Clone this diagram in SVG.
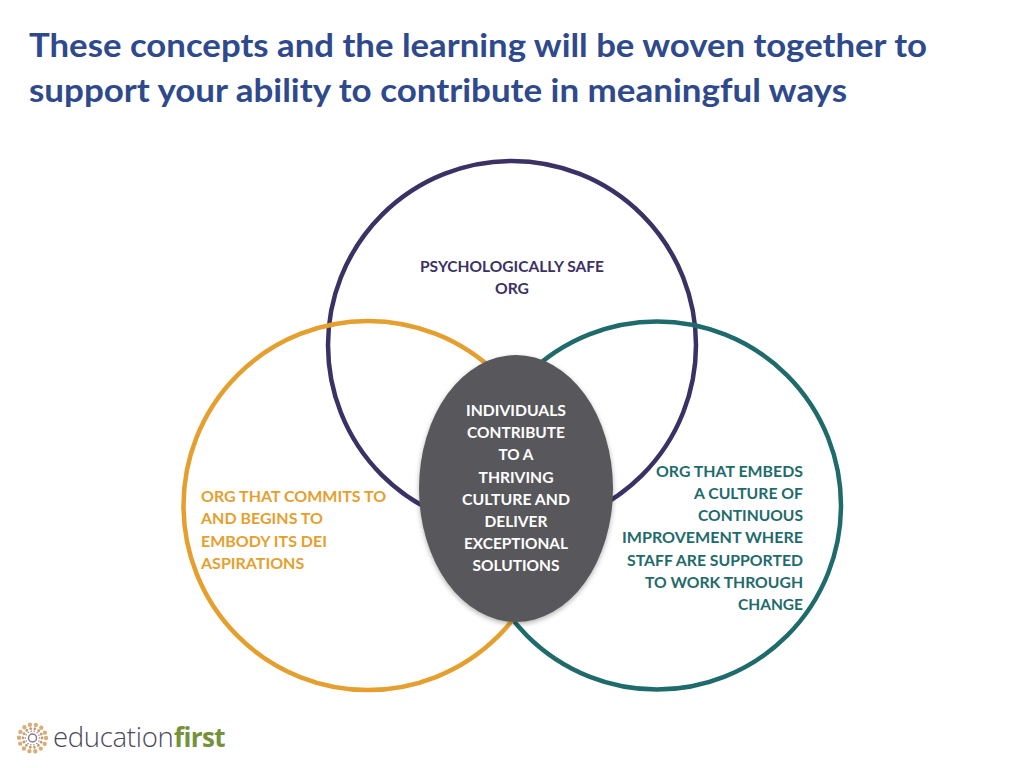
<svg xmlns="http://www.w3.org/2000/svg" width="1024" height="768" viewBox="0 0 1024 768">
<defs>
<style>
text{font-family:"Lato","Open Sans","Liberation Sans",sans-serif;font-weight:700}
.title{font-size:33px;fill:#2f4a8c}
.ring{fill:none;stroke-width:4.5}
.lbl{font-size:16px}
.m{text-anchor:middle}
.e{text-anchor:end}
text.logo-a{font-family:"Open Sans",sans-serif;font-weight:300;font-size:27.500px;fill:#4a4a5c;letter-spacing:-.3px}
text.logo-b{font-family:"Open Sans",sans-serif;font-weight:700;font-size:26px;fill:#76913a;letter-spacing:-.6px}
</style>
<filter id="sh" x="-10%" y="-10%" width="120%" height="120%"><feDropShadow dx="0" dy="2" stdDeviation="2.5" flood-color="#000" flood-opacity=".3"/></filter>
</defs>
<rect width="1024" height="768" fill="#fff"/>
<g id="title" class="title"><text x="29" y="57" textLength="898" lengthAdjust="spacingAndGlyphs">These concepts and the learning will be woven together to</text><text x="29" y="102" textLength="818" lengthAdjust="spacingAndGlyphs">support your ability to contribute in meaningful ways</text></g>
<g id="connectors"></g>
<g id="node-purple"><circle class="ring" cx="512" cy="345" r="184" stroke="#3b3165"/>
<g class="lbl m" fill="#3b3165"><text x="512" y="272" textLength="184" lengthAdjust="spacingAndGlyphs">PSYCHOLOGICALLY SAFE</text><text x="512" y="294" textLength="34" lengthAdjust="spacingAndGlyphs">ORG</text></g></g>
<g id="node-teal"><circle class="ring" cx="657" cy="505.500" r="184" stroke="#1f6b6b"/>
<g class="lbl e" fill="#1f6b6b"><text x="803" y="477" textLength="147" lengthAdjust="spacingAndGlyphs">ORG THAT EMBEDS</text><text x="803" y="499" textLength="109" lengthAdjust="spacingAndGlyphs">A CULTURE OF</text><text x="803" y="521" textLength="105" lengthAdjust="spacingAndGlyphs">CONTINUOUS</text><text x="803" y="543" textLength="181" lengthAdjust="spacingAndGlyphs">IMPROVEMENT WHERE</text><text x="803" y="566" textLength="176" lengthAdjust="spacingAndGlyphs">STAFF ARE SUPPORTED</text><text x="803" y="588" textLength="158" lengthAdjust="spacingAndGlyphs">TO WORK THROUGH</text><text x="803" y="610" textLength="65" lengthAdjust="spacingAndGlyphs">CHANGE</text></g></g>
<g id="node-orange"><circle class="ring" cx="368" cy="505.500" r="184.500" stroke="#e59f2f"/>
<g class="lbl" fill="#e59f2f"><text x="201" y="502">ORG THAT COMMITS TO</text><text x="201" y="524">AND BEGINS TO</text><text x="201" y="547">EMBODY ITS DEI</text><text x="201" y="569">ASPIRATIONS</text></g></g>
<g id="node-center"><ellipse cx="516" cy="488.500" rx="97" ry="133.500" fill="#58595b" filter="url(#sh)"/>
<g class="lbl m" fill="#fff"><text x="516" y="416" textLength="100" lengthAdjust="spacingAndGlyphs">INDIVIDUALS</text><text x="516" y="438" textLength="98" lengthAdjust="spacingAndGlyphs">CONTRIBUTE</text><text x="516" y="460" textLength="35" lengthAdjust="spacingAndGlyphs">TO A</text><text x="516" y="483" textLength="75" lengthAdjust="spacingAndGlyphs">THRIVING</text><text x="516" y="505" textLength="108" lengthAdjust="spacingAndGlyphs">CULTURE AND</text><text x="516" y="527" textLength="63" lengthAdjust="spacingAndGlyphs">DELIVER</text><text x="516" y="549" textLength="104" lengthAdjust="spacingAndGlyphs">EXCEPTIONAL</text><text x="516" y="571" textLength="87" lengthAdjust="spacingAndGlyphs">SOLUTIONS</text></g></g>
<g id="logo">
<g fill="none" stroke-linecap="round"><circle cx="32.500" cy="738" r="13.500" stroke="#d9ae78" stroke-width="4.400" stroke-dasharray="0 6.060"/><circle cx="32.500" cy="738" r="9.500" stroke="#c49a70" stroke-width="2.800" stroke-dasharray="0 4.260"/><circle cx="32.500" cy="738" r="7" stroke="#a07f80" stroke-width="1.500" stroke-dasharray="0 3.140"/><circle cx="32.500" cy="738" r="4" stroke="#8d7a8c" stroke-width="1.500"/></g>
<text class="logo-a" x="53" y="747">education</text>
<text class="logo-b" x="174" y="747">first</text>
</g>
</svg>
